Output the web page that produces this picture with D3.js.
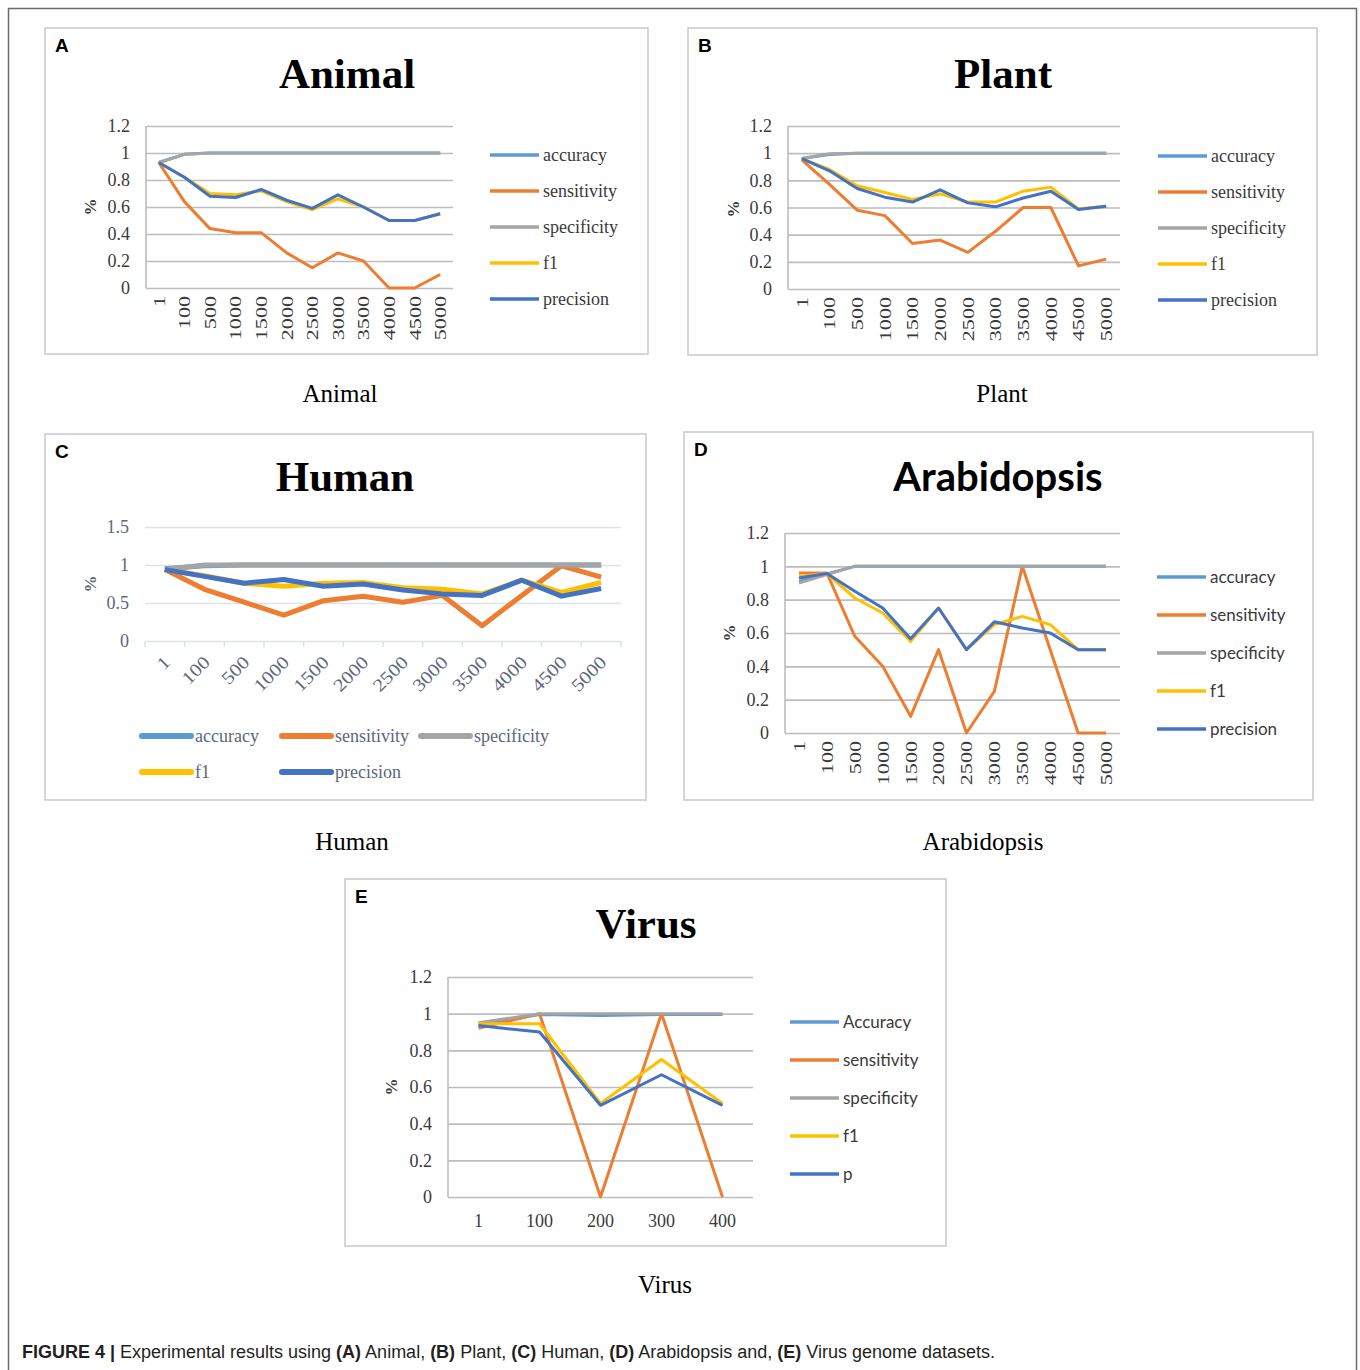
<!DOCTYPE html>
<html>
<head>
<meta charset="utf-8">
<script src="https://cdn.jsdelivr.net/npm/d3@7/dist/d3.min.js"></script>
<style>
  body { margin: 0; background: #fff; }
  svg { display: block; }
</style>
</head>
<body>
<script>
  // ---- data ----
  const sizeCats = ["1", "100", "500", "1000", "1500", "2000", "2500", "3000", "3500", "4000", "4500", "5000"];
  const virusCats = ["1", "100", "200", "300", "400"];
  const metricNames = ["accuracy", "sensitivity", "specificity", "f1", "precision"];
  const virusMetricNames = ["Accuracy", "sensitivity", "specificity", "f1", "p"];

  const animalAccuracy = [0.93, 0.99, 1, 1, 1, 1, 1, 1, 1, 1, 1, 1];
  const animalSensitivity = [0.93, 0.64, 0.44, 0.41, 0.41, 0.26, 0.15, 0.26, 0.20, 0, 0, 0.10];
  const animalSpecificity = [0.93, 0.99, 1, 1, 1, 1, 1, 1, 1, 1, 1, 1];
  const animalF1 = [0.93, 0.82, 0.70, 0.69, 0.72, 0.64, 0.58, 0.66, 0.60, 0.50, 0.50, 0.55];
  const animalPrecision = [0.93, 0.82, 0.68, 0.67, 0.73, 0.65, 0.59, 0.69, 0.60, 0.50, 0.50, 0.55];

  const plantAccuracy = [0.96, 0.99, 1, 1, 1, 1, 1, 1, 1, 1, 1, 1];
  const plantSensitivity = [0.95, 0.77, 0.58, 0.54, 0.335, 0.36, 0.27, 0.425, 0.60, 0.60, 0.17, 0.22];
  const plantSpecificity = [0.96, 0.995, 1, 1, 1, 1, 1, 1, 1, 1, 1, 1];
  const plantF1 = [0.96, 0.88, 0.76, 0.71, 0.66, 0.70, 0.64, 0.64, 0.72, 0.75, 0.59, 0.61];
  const plantPrecision = [0.96, 0.87, 0.74, 0.676, 0.64, 0.73, 0.634, 0.605, 0.67, 0.72, 0.585, 0.61];

  const humanAccuracy = [0.95, 0.99, 1, 1, 1, 1, 1, 1, 1, 1, 1, 1];
  const humanSensitivity = [0.94, 0.68, 0.51, 0.34, 0.53, 0.59, 0.51, 0.60, 0.20, 0.60, 0.99, 0.84];
  const humanSpecificity = [0.94, 1, 1, 1, 1, 1, 1, 1, 1, 1, 1, 1];
  const humanF1 = [0.94, 0.86, 0.76, 0.72, 0.76, 0.77, 0.70, 0.68, 0.62, 0.80, 0.64, 0.77];
  const humanPrecision = [0.94, 0.85, 0.76, 0.81, 0.72, 0.75, 0.67, 0.62, 0.60, 0.80, 0.59, 0.69];

  const arabAccuracy = [0.91, 0.955, 1, 1, 1, 1, 1, 1, 1, 1, 1, 1];
  const arabSensitivity = [0.96, 0.96, 0.58, 0.40, 0.10, 0.50, 0, 0.25, 1.0, 0.50, 0, 0];
  const arabSpecificity = [0.90, 0.95, 1, 1, 1, 1, 1, 1, 1, 1, 1, 1];
  const arabF1 = [0.94, 0.957, 0.81, 0.72, 0.55, 0.75, 0.50, 0.65, 0.70, 0.65, 0.50, 0.50];
  const arabPrecision = [0.93, 0.957, 0.85, 0.75, 0.566, 0.75, 0.50, 0.667, 0.63, 0.60, 0.50, 0.50];

  const virusAccuracy = [0.94, 0.995, 0.99, 0.995, 0.995];
  const virusSensitivity = [0.92, 1.0, 0, 1.0, 0];
  const virusSpecificity = [0.95, 1.0, 1.0, 1.0, 1.0];
  const virusF1 = [0.945, 0.945, 0.51, 0.75, 0.51];
  const virusPrecision = [0.935, 0.90, 0.50, 0.667, 0.50];

  const ticks12 = [0, 0.2, 0.4, 0.6, 0.8, 1, 1.2];
  const ticks15 = [0, 0.5, 1, 1.5];

  // excel default palette
  const colors = ["#5b9bd5", "#ed7d31", "#a5a5a5", "#ffc000", "#4472c4"];
  const serif = "'Liberation Serif', 'Times New Roman', serif";
  const sans = "Lato, 'Liberation Sans', sans-serif";

  const width = 1360, height = 1370;
  const svg = d3.select("body").append("svg").attr("width", width).attr("height", height);

  // outer figure frame (top, left, right)
  svg.append("path")
    .attr("d", "M8.5,1370 V8.5 H1356.5 V1370")
    .attr("fill", "none").attr("stroke", "#6a6a6a").attr("stroke-width", 1.5);

  const panels = [
    {
      letter: "A", title: "Animal", titleFont: serif, caption: "Animal",
      box: [45, 28, 648, 354], titleXY: [347, 88], captionXY: [340, 402],
      plot: [146, 126, 453, 288], yMax: 1.2, yTicks: ticks12, pctXY: [90, 207],
      cats: sizeCats, names: metricNames,
      series: [animalAccuracy, animalSensitivity, animalSpecificity, animalF1, animalPrecision],
      xMode: "vertical", legend: { x: 490, y: 155, dy: 36, font: serif, size: 18 },
      lineW: 3, grid: "#bdbdbd", text: "#3a3a3a"
    },
    {
      letter: "B", title: "Plant", titleFont: serif, caption: "Plant",
      box: [688, 28, 1317, 355], titleXY: [1003, 88], captionXY: [1002, 402],
      plot: [788, 126, 1120, 289], yMax: 1.2, yTicks: ticks12, pctXY: [733, 209],
      cats: sizeCats, names: metricNames,
      series: [plantAccuracy, plantSensitivity, plantSpecificity, plantF1, plantPrecision],
      xMode: "vertical", legend: { x: 1158, y: 156, dy: 36, font: serif, size: 18 },
      lineW: 3, grid: "#bdbdbd", text: "#3a3a3a"
    },
    {
      letter: "C", title: "Human", titleFont: serif, caption: "Human",
      box: [45, 434, 646, 800], titleXY: [345, 491], captionXY: [352, 850],
      plot: [145, 527, 621, 641], yMax: 1.5, yTicks: ticks15, pctXY: [90, 584],
      cats: sizeCats, names: metricNames,
      series: [humanAccuracy, humanSensitivity, humanSpecificity, humanF1, humanPrecision],
      xMode: "diagonal",
      legend: { rows: true, x: [142, 282, 421], y: [736, 772], font: serif, size: 18 },
      lineW: 5, grid: "#dce3ec", text: "#5c677c", noLeftAxis: true
    },
    {
      letter: "D", title: "Arabidopsis", titleFont: sans, caption: "Arabidopsis",
      box: [684, 432, 1313, 800], titleXY: [998, 491], captionXY: [983, 850],
      plot: [785, 533, 1120, 733], yMax: 1.2, yTicks: ticks12, pctXY: [729, 633],
      cats: sizeCats, names: metricNames,
      series: [arabAccuracy, arabSensitivity, arabSpecificity, arabF1, arabPrecision],
      xMode: "vertical", legend: { x: 1157, y: 577, dy: 38, font: sans, size: 17 },
      lineW: 3, grid: "#bdbdbd", text: "#3a3a3a"
    },
    {
      letter: "E", title: "Virus", titleFont: serif, caption: "Virus",
      box: [345, 879, 946, 1246], titleXY: [646, 938], captionXY: [665, 1293],
      plot: [448, 977, 753, 1197], yMax: 1.2, yTicks: ticks12, pctXY: [391, 1087],
      cats: virusCats, names: virusMetricNames,
      series: [virusAccuracy, virusSensitivity, virusSpecificity, virusF1, virusPrecision],
      xMode: "flat", legend: { x: 790, y: 1022, dy: 38, font: sans, size: 17 },
      lineW: 3, grid: "#bdbdbd", text: "#3a3a3a"
    }
  ];

  function fmt(t) {
    return String(+t.toFixed(1));
  }

  function drawPanel(p) {
    const g = svg.append("g");
    const [bx0, by0, bx1, by1] = p.box;
    const [x0, yTop, x1, y0] = p.plot;

    g.append("rect")
      .attr("x", bx0).attr("y", by0)
      .attr("width", bx1 - bx0).attr("height", by1 - by0)
      .attr("fill", "#fff").attr("stroke", "#c9c9c9").attr("stroke-width", 1.5);

    g.append("text")
      .attr("x", bx0 + 10).attr("y", by0 + 24)
      .attr("font-family", "'Liberation Sans', Arial, sans-serif")
      .attr("font-weight", "bold").attr("font-size", 19)
      .text(p.letter);

    g.append("text")
      .attr("x", p.titleXY[0]).attr("y", p.titleXY[1])
      .attr("text-anchor", "middle")
      .attr("font-family", p.titleFont).attr("font-weight", "bold")
      .attr("font-size", p.titleFont === sans ? 40 : 43)
      .text(p.title);

    const x = d3.scaleBand().domain(p.cats).range([x0, x1]);
    const y = d3.scaleLinear().domain([0, p.yMax]).range([y0, yTop]);
    const cx = c => x(c) + x.bandwidth() / 2;

    // y axis with gridlines
    const yAxis = g.append("g")
      .attr("transform", `translate(${x0},0)`)
      .call(d3.axisLeft(y).tickValues(p.yTicks).tickFormat(fmt)
        .tickSize(-(x1 - x0)).tickPadding(16));
    yAxis.select(".domain").remove();
    yAxis.selectAll(".tick line").attr("stroke", p.grid).attr("stroke-width", 1.6);
    yAxis.selectAll(".tick text")
      .attr("font-family", serif).attr("font-size", 18).attr("fill", p.text);

    if (!p.noLeftAxis) {
      g.append("line")
        .attr("x1", x0).attr("x2", x0).attr("y1", y0).attr("y2", yTop)
        .attr("stroke", p.grid).attr("stroke-width", 1.6);
    }

    g.append("text")
      .attr("transform", `translate(${p.pctXY[0]},${p.pctXY[1]}) rotate(-90)`)
      .attr("text-anchor", "middle").attr("dy", "0.35em")
      .attr("font-family", serif).attr("font-weight", "bold").attr("font-size", 17)
      .attr("fill", p.text)
      .text("%");

    // x axis labels
    const xAxis = g.append("g")
      .attr("transform", `translate(0,${y0})`)
      .call(d3.axisBottom(x).tickSize(0).tickPadding(0));
    xAxis.select(".domain").remove();
    const xt = xAxis.selectAll(".tick text")
      .attr("font-family", serif).attr("fill", p.text);
    if (p.xMode === "vertical") {
      xt.attr("font-size", 17)
        .attr("text-anchor", "end").attr("dy", "0.35em").attr("y", 0)
        .attr("transform", "translate(0,8) rotate(-90) scale(1.3,1)");
    } else if (p.xMode === "diagonal") {
      xt.attr("font-size", 18)
        .attr("text-anchor", "end").attr("dy", "0.35em").attr("y", 0)
        .attr("transform", "translate(2,18) rotate(-45) scale(1.15,1)");
      // tick marks at category edges
      const edges = p.cats.map(c => x(c)).concat([x1]);
      g.selectAll(".edge").data(edges).join("line")
        .attr("x1", d => d).attr("x2", d => d)
        .attr("y1", y0).attr("y2", y0 + 6)
        .attr("stroke", p.grid).attr("stroke-width", 1.6);
    } else {
      xt.attr("font-size", 18).attr("y", 17);
    }

    // series
    const line = d3.line().x((d, i) => cx(p.cats[i])).y(d => y(d));
    g.selectAll(".series").data(p.series).join("path")
      .attr("d", line)
      .attr("fill", "none")
      .attr("stroke", (d, i) => colors[i])
      .attr("stroke-width", p.lineW)
      .attr("stroke-linejoin", "round");

    // legend
    const L = p.legend;
    const items = p.names.map((n, i) => {
      if (L.rows) {
        return { n, i, lx: L.x[i % 3], ly: L.y[Math.floor(i / 3)] };
      }
      return { n, i, lx: L.x, ly: L.y + i * L.dy };
    });
    const lg = g.selectAll(".lg").data(items).join("g");
    lg.append("line")
      .attr("x1", d => d.lx).attr("x2", d => d.lx + 49)
      .attr("y1", d => d.ly).attr("y2", d => d.ly)
      .attr("stroke", d => colors[d.i])
      .attr("stroke-width", L.rows ? 6 : 3.5)
      .attr("stroke-linecap", L.rows ? "round" : "butt");
    lg.append("text")
      .attr("x", d => d.lx + 53).attr("y", d => d.ly)
      .attr("dy", "0.33em")
      .attr("font-family", L.font).attr("font-size", L.size)
      .attr("fill", p.text)
      .text(d => d.n);

    // caption under the panel
    svg.append("text")
      .attr("x", p.captionXY[0]).attr("y", p.captionXY[1])
      .attr("text-anchor", "middle")
      .attr("font-family", serif).attr("font-size", 25)
      .text(p.caption);
  }

  panels.forEach(drawPanel);

  // figure caption
  const cap = svg.append("text")
    .attr("x", 22).attr("y", 1358)
    .attr("font-family", "'Liberation Sans Narrow', 'Liberation Sans', Arial, sans-serif")
    .attr("font-size", 18).attr("fill", "#231f20")
    .attr("textLength", 973).attr("lengthAdjust", "spacingAndGlyphs");
  const capParts = [
    ["FIGURE 4 | ", true], ["Experimental results using ", false],
    ["(A)", true], [" Animal, ", false], ["(B)", true], [" Plant, ", false],
    ["(C)", true], [" Human, ", false], ["(D)", true], [" Arabidopsis and, ", false],
    ["(E)", true], [" Virus genome datasets.", false]
  ];
  capParts.forEach(([t, b]) => {
    cap.append("tspan").attr("font-weight", b ? "bold" : "normal").text(t);
  });
</script>
</body>
</html>
